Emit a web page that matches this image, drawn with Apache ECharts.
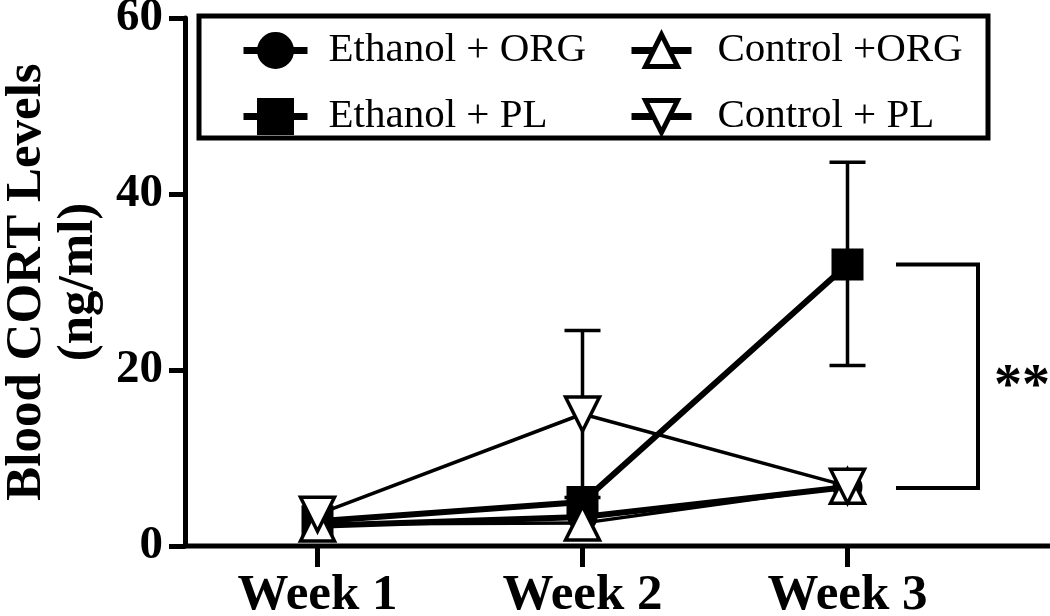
<!DOCTYPE html>
<html>
<head>
<meta charset="utf-8">
<script src="https://cdn.jsdelivr.net/npm/echarts@6/dist/echarts.min.js"></script>
<style>html,body{margin:0;padding:0;background:#fff}#c{width:1050px;height:616px}</style>
</head>
<body>
<div id="c"></div>
<script>
const categories = ['Week 1', 'Week 2', 'Week 3'];
const ethanolOrg = [2.3, 3.3, 6.7];
const ethanolPl = [2.8, 5.0, 32.0];
const controlOrg = [2.5, 2.6, 6.8];
const controlPl = [3.6, 15.0, 6.8];
// error bars: [categoryIndex, low, high]
const errorBars = [[1, 5.5, 24.5], [2, 20.5, 43.6]];
const yTicks = [0, 20, 40, 60];
const bracketY = [32.0, 6.6];

const FONT = '"Liberation Serif", "Times New Roman", serif';
const chart = echarts.init(document.getElementById('c'), null, {renderer: 'canvas'});

function lineSeries(name, data, symbol, fill, width, size, rotate) {
  return {
    name: name, type: 'line', data: data, symbol: symbol, symbolSize: size,
    symbolRotate: rotate || 0, showSymbol: true,
    lineStyle: {color: '#000', width: width},
    itemStyle: {color: fill, borderColor: '#000', borderWidth: fill === '#fff' ? 3.5 : 0},
    emphasis: {disabled: true}, animation: false, z: 3
  };
}

function legendBlock(left, names, itemWidth, pad) {
  return {
    orient: 'vertical', left: left, top: 25, itemWidth: itemWidth, itemHeight: 40, itemGap: 25,
    data: names,
    lineStyle: {width: 7, color: '#000'},
    itemStyle: {borderWidth: 5, borderColor: '#000'},
    textStyle: {color: '#000', fontFamily: FONT, fontSize: 41, padding: [0, 0, 0, pad]}
  };
}

const option = {
  animation: false,
  grid: {left: 185, top: 18, bottom: 70, right: 70, containLabel: false, outerBoundsMode: 'none'},
  xAxis: {
    type: 'category', data: categories, boundaryGap: true,
    axisLine: {show: false, lineStyle: {color: '#000', width: 5}},
    axisTick: {show: true, alignWithLabel: true, interval: 0, length: 21, lineStyle: {color: '#000', width: 5}},
    axisLabel: {color: '#000', fontFamily: FONT, fontWeight: 'bold', fontSize: 51, margin: 24},
    splitLine: {show: false}
  },
  yAxis: {
    type: 'value', min: 0, max: 60, interval: 20,
    name: 'Blood CORT Levels\n(ng/ml)', nameLocation: 'middle', nameGap: 78, nameRotate: 90,
    nameTextStyle: {color: '#000', fontFamily: FONT, fontWeight: 'bold', fontSize: 51, lineHeight: 52},
    axisLine: {show: true, lineStyle: {color: '#000', width: 5}},
    axisTick: {show: true, length: 16, lineStyle: {color: '#000', width: 5}},
    axisLabel: {color: '#000', fontFamily: FONT, fontWeight: 'bold', fontSize: 47, margin: 22,
      formatter: v => yTicks.includes(v) ? String(v) : ''},
    splitLine: {show: false}
  },
  legend: [
    legendBlock(235, ['Ethanol + ORG', 'Ethanol + PL'], 64, 16),
    legendBlock(623, ['Control +ORG', 'Control + PL'], 60, 21)
  ],
  series: [
    {
      type: 'custom', name: 'err', data: errorBars, z: 2, silent: true,
      encode: {x: 0, y: [1, 2]},
      renderItem: function (params, api) {
        const lo = api.coord([api.value(0), api.value(1)]);
        const hi = api.coord([api.value(0), api.value(2)]);
        const cw = 18;
        const st = {stroke: '#000', lineWidth: 3.5};
        return {type: 'group', children: [
          {type: 'line', shape: {x1: lo[0], y1: lo[1], x2: hi[0], y2: hi[1]}, style: st},
          {type: 'line', shape: {x1: hi[0] - cw, y1: hi[1], x2: hi[0] + cw, y2: hi[1]}, style: st},
          {type: 'line', shape: {x1: lo[0] - cw, y1: lo[1], x2: lo[0] + cw, y2: lo[1]}, style: st}
        ]};
      }
    },
    lineSeries('Ethanol + ORG', ethanolOrg, 'circle', '#000', 6, 30),
    lineSeries('Ethanol + PL', ethanolPl, 'rect', '#000', 6, 32),
    lineSeries('Control +ORG', controlOrg, 'triangle', '#fff', 3.5, 34),
    lineSeries('Control + PL', controlPl, 'triangle', '#fff', 3.5, 34, 180)
  ]
};
chart.setOption(option);

const yTop = chart.convertToPixel({yAxisIndex: 0}, bracketY[0]);
const yBot = chart.convertToPixel({yAxisIndex: 0}, bracketY[1]);
const yZero = chart.convertToPixel({yAxisIndex: 0}, 0);
chart.setOption({
  graphic: [
    {type: 'rect', shape: {x: 199, y: 16, width: 789, height: 122}, style: {fill: 'none', stroke: '#000', lineWidth: 5}, z: 10},
    {type: 'line', shape: {x1: 183, y1: yZero, x2: 1050, y2: yZero}, style: {stroke: '#000', lineWidth: 5}, z: 10},
    {type: 'polyline', shape: {points: [[896, yTop], [978, yTop], [978, yBot], [896, yBot]]}, style: {fill: 'none', stroke: '#000', lineWidth: 4}, z: 10},
    {type: 'text', x: 1022, y: (yTop + yBot) / 2 + 12, style: {text: '**', font: 'bold 56px ' + FONT, fill: '#000', align: 'center', verticalAlign: 'middle'}, z: 10}
  ]
});
</script>
</body>
</html>
